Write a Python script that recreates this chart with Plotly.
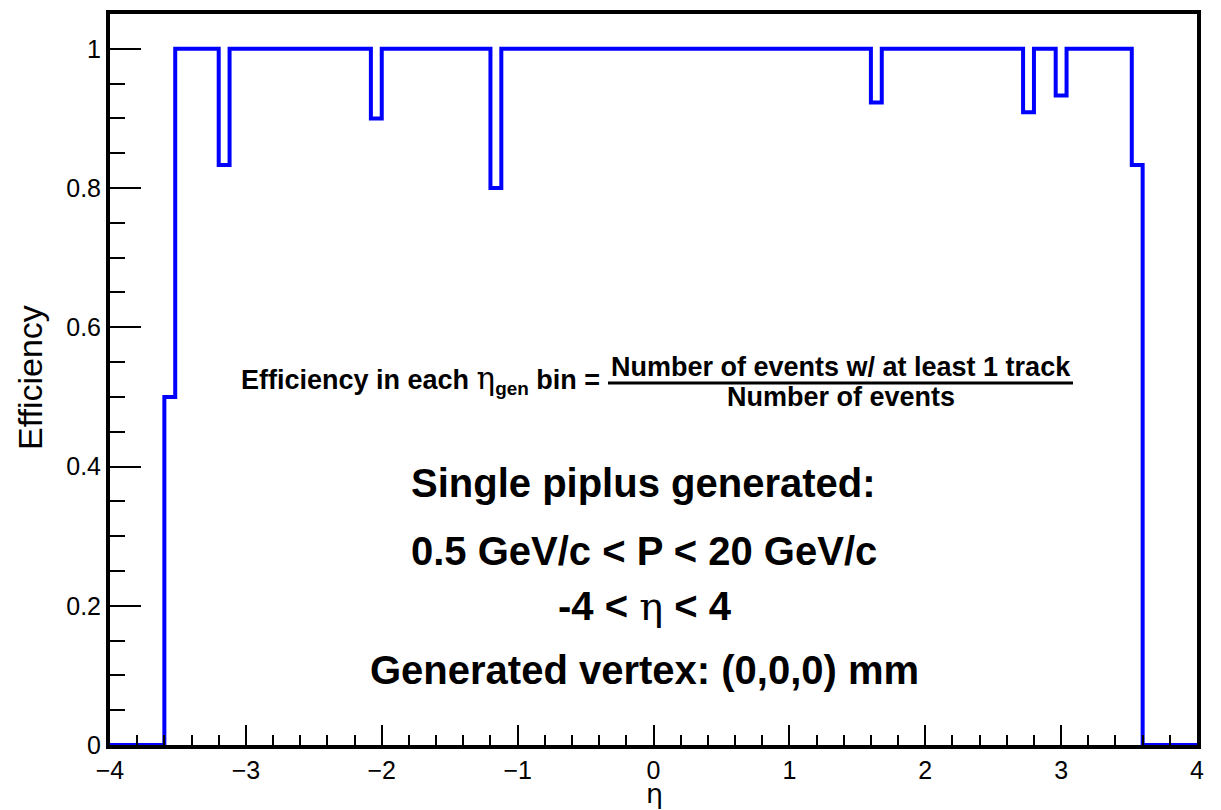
import numpy as np
import plotly.graph_objects as go

# 100 eta bins from -4 to 4 (width 0.08)
bin_edges = np.linspace(-4.0, 4.0, 101)

# per-bin tracking efficiency
efficiency = [
    0, 0, 0, 0, 0, 0.5, 1, 1, 1, 1,
    0.833, 1, 1, 1, 1, 1, 1, 1, 1, 1,
    1, 1, 1, 1, 0.9, 1, 1, 1, 1, 1,
    1, 1, 1, 1, 1, 0.8, 1, 1, 1, 1,
    1, 1, 1, 1, 1, 1, 1, 1, 1, 1,
    1, 1, 1, 1, 1, 1, 1, 1, 1, 1,
    1, 1, 1, 1, 1, 1, 1, 1, 1, 1,
    0.923, 1, 1, 1, 1, 1, 1, 1, 1, 1,
    1, 1, 1, 1, 0.909, 1, 1, 0.933, 1, 1,
    1, 1, 1, 1, 0.833, 0, 0, 0, 0, 0,
]

x_ticks = [-4, -3, -2, -1, 0, 1, 2, 3, 4]
x_tick_text = ["\u22124", "\u22123", "\u22122", "\u22121", "0", "1", "2", "3", "4"]
y_ticks = [0, 0.2, 0.4, 0.6, 0.8, 1.0]
y_tick_text = ["0", "0.2", "0.4", "0.6", "0.8", "1"]

FONT = "Liberation Sans, Arial, sans-serif"
ETA = "<span style=\"font-family:'DejaVu Serif', serif; font-weight:normal\">\u03b7</span>"

W, H = 1221, 810
L, R, T, B = 110, 24, 10, 65

fig = go.Figure()
fig.add_trace(go.Scatter(
    x=list(bin_edges),
    y=efficiency + [efficiency[-1]],
    mode="lines",
    line=dict(color="#0000ff", width=4, shape="hv"),
    hoverinfo="skip",
    showlegend=False,
))

fig.update_layout(
    width=W, height=H,
    margin=dict(l=L, r=R, t=T, b=B),
    paper_bgcolor="white", plot_bgcolor="white",
    font=dict(family=FONT, color="black"),
    showlegend=False,
)

fig.update_xaxes(
    range=[-4, 4], showgrid=False, zeroline=False,
    showline=True, linewidth=4, linecolor="black", mirror=True,
    tickmode="array", tickvals=x_ticks, ticktext=x_tick_text,
    ticks="inside", ticklen=20, tickwidth=2, tickcolor="black",
    tickfont=dict(size=25, family=FONT),
    minor=dict(dtick=0.2, ticks="inside", ticklen=10, tickwidth=2, tickcolor="black"),
)
fig.update_yaxes(
    range=[0, 1.05], showgrid=False, zeroline=False,
    showline=True, linewidth=4, linecolor="black", mirror=True,
    tickmode="array", tickvals=y_ticks, ticktext=y_tick_text,
    ticks="inside", ticklen=31, tickwidth=2, tickcolor="black",
    tickfont=dict(size=25, family=FONT),
    minor=dict(dtick=0.05, ticks="inside", ticklen=15, tickwidth=2, tickcolor="black"),
)

annotations = [
    # axis titles
    dict(text="Efficiency", x=30, y=376, textangle=-90, font=dict(size=34)),
    dict(text="\u03b7", x=654, y=794, font=dict(size=27, family="DejaVu Sans")),
    # efficiency definition
    dict(text="Efficiency in each "
         + "<span style=\"font-family:'DejaVu Serif', serif; font-weight:normal; font-size:31px\">\u03b7</span>"
         + "<sub>gen</sub> bin =",
         x=602, y=378, xanchor="right", font=dict(size=27, weight="bold")),
    dict(text="Number of events w/ at least 1 track", x=841, y=365,
         font=dict(size=27, weight="bold")),
    dict(text="Number of events", x=841, y=395, font=dict(size=27, weight="bold")),
    # generation conditions
    dict(text="Single piplus generated:", x=643, y=482, font=dict(size=40, weight="bold")),
    dict(text="0.5 GeV/c < P < 20 GeV/c", x=644, y=550, font=dict(size=40, weight="bold")),
    dict(text="-4 < " + ETA + " < 4", x=645, y=605, font=dict(size=40, weight="bold")),
    dict(text="Generated vertex: (0,0,0) mm", x=644, y=670, font=dict(size=40, weight="bold")),
]

pw, ph = W - L - R, H - T - B


def to_paper(px, py):
    return (px - L) / pw, (H - B - py) / ph


for a in annotations:
    px, py = a.pop("x"), a.pop("y")
    xp, yp = to_paper(px, py)
    a.setdefault("xanchor", "center")
    fig.add_annotation(x=xp, y=yp, xref="paper", yref="paper", yanchor="middle",
                       showarrow=False, **a)

# fraction bar
x0, y0 = to_paper(608, 381)
x1, _ = to_paper(1073, 381)
fig.add_shape(type="line", xref="paper", yref="paper", x0=x0, x1=x1, y0=y0, y1=y0,
              line=dict(color="black", width=3))

fig.write_html("out.html")
